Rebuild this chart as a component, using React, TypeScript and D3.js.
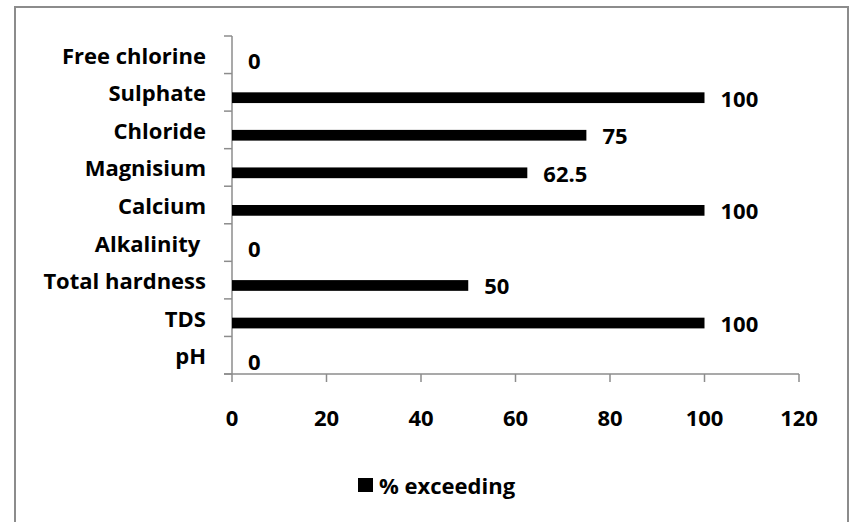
import React from "react";
import * as d3 from "d3";

const categories = ["Free chlorine", "Sulphate", "Chloride", "Magnisium", "Calcium", "Alkalinity ", "Total hardness", "TDS", "pH"];
const exceeding = [0, 100, 75, 62.5, 100, 0, 50, 100, 0];
const xTicks = [0, 20, 40, 60, 80, 100, 120];
const seriesName = "% exceeding";

const W = 852;
const H = 522;
const FONT = "'Open Sans', Lato, sans-serif";
const FS = 22;
const axisColor = "#8c8c8c";

export default function App() {
    const x = d3.scaleLinear().domain([0, 120]).range([232, 799]);
    const y = d3.scaleBand<string>().domain(categories).range([36, 374]);
    // Excel-style cluster: a hidden first slot, our series in the second
    const slot = d3.scaleBand<string>()
        .domain(["blank", "value"])
        .range([0, y.bandwidth()])
        .paddingOuter(0.75)
        .paddingInner(0);

    const barY = (c: string) => (y(c) ?? 0) + (slot("value") ?? 0);
    const barH = slot.bandwidth();

    return (
        <svg width={W} height={H} style={{ position: "absolute", left: 0, top: 0 }} fontFamily={FONT} fontWeight="bold">
            <rect x={0} y={0} width={W} height={H} fill="#fff" />
            <rect x={15} y={7} width={833} height={H + 20} fill="none" stroke={axisColor} strokeWidth={2} />

            {/* y axis */}
            <line x1={x(0)} x2={x(0)} y1={36} y2={374} stroke={axisColor} strokeWidth={1.5} />
            {[...categories.map(c => y(c) ?? 0), 374].map((ty, i) => (
                <line key={i} x1={x(0) - 8} x2={x(0)} y1={ty} y2={ty} stroke={axisColor} strokeWidth={1.5} />
            ))}
            {categories.map(c => (
                <text key={c} x={206} y={(y(c) ?? 0) + y.bandwidth() / 2} textAnchor="end" dominantBaseline="central"
                    fontSize={FS} fill="#000" style={{ whiteSpace: "pre" }}>
                    {c}
                </text>
            ))}

            {/* x axis */}
            <line x1={x(0) - 8} x2={x(120)} y1={374} y2={374} stroke={axisColor} strokeWidth={1.5} />
            {xTicks.map(t => (
                <g key={t}>
                    <line x1={x(t)} x2={x(t)} y1={374} y2={382} stroke={axisColor} strokeWidth={1.5} />
                    <text x={x(t)} y={417} textAnchor="middle" dominantBaseline="central" fontSize={FS} fill="#000">{t}</text>
                </g>
            ))}

            {/* bars */}
            {categories.map((c, i) => (
                <g key={c}>
                    <rect x={x(0)} y={barY(c)} width={x(exceeding[i]) - x(0)} height={barH} fill="#000" />
                    <text x={x(exceeding[i]) + 16} y={barY(c) + barH / 2} dominantBaseline="central" fontSize={FS} fill="#000">
                        {exceeding[i]}
                    </text>
                </g>
            ))}

            {/* legend */}
            <rect x={358} y={478} width={15} height={14} fill="#000" />
            <text x={379} y={485} dominantBaseline="central" fontSize={FS} fill="#000">{seriesName}</text>
        </svg>
    );
}
